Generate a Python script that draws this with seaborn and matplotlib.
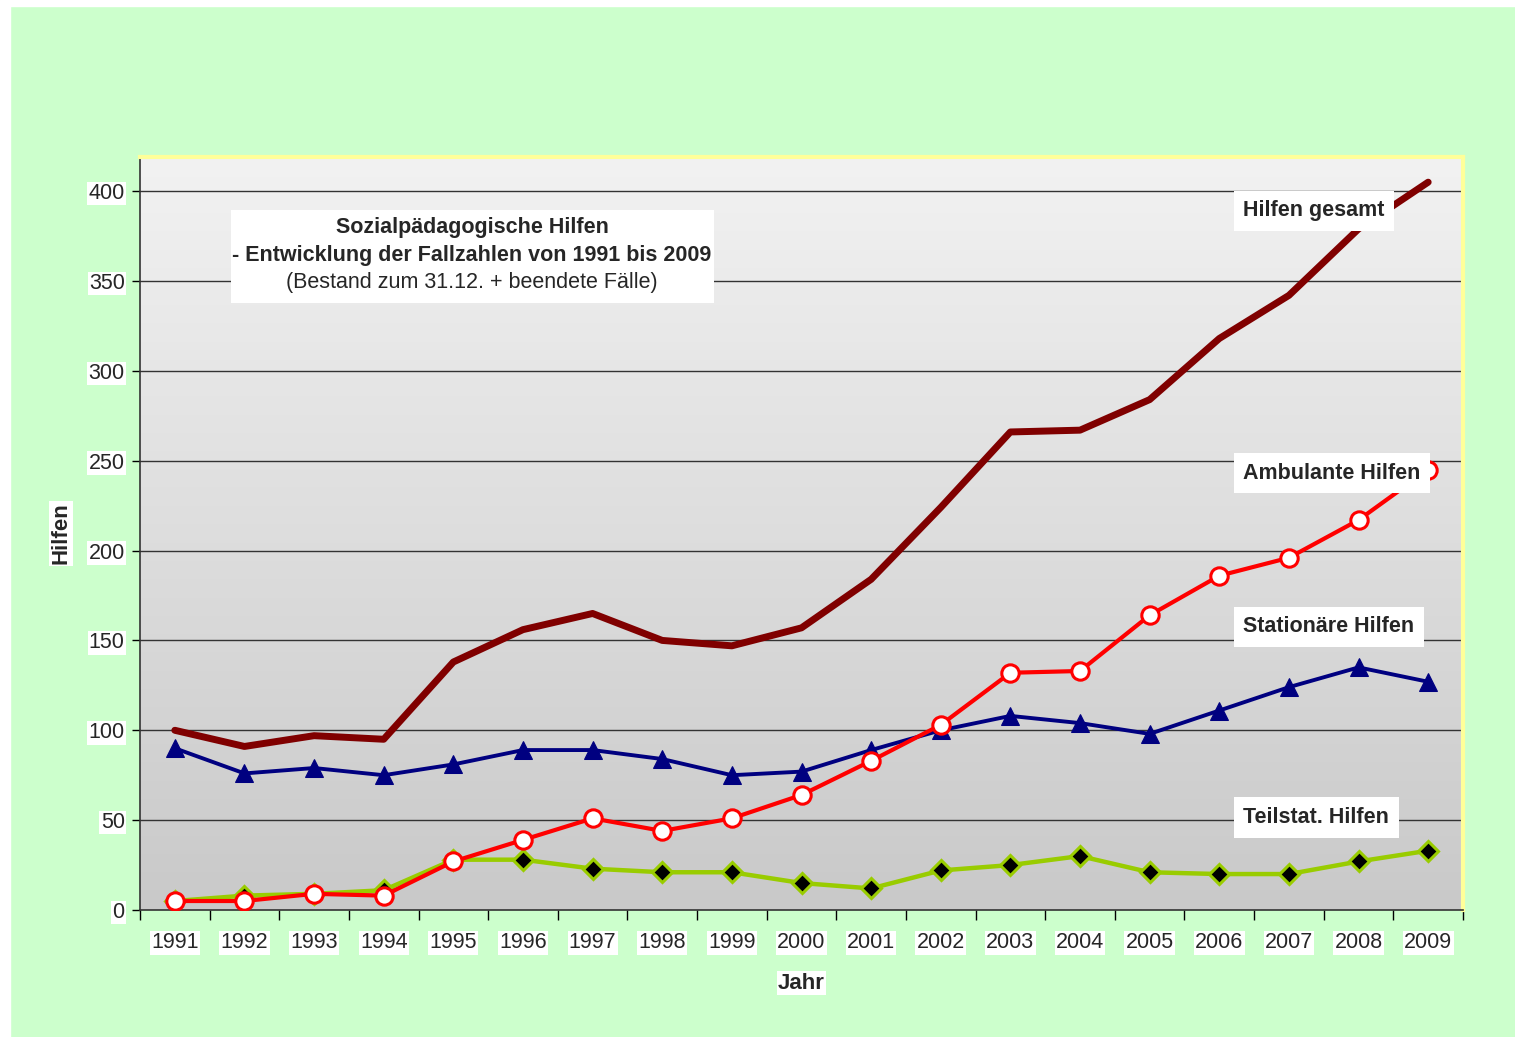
import numpy as np
import pandas as pd
import matplotlib
matplotlib.use("Agg")
import matplotlib.pyplot as plt
import seaborn as sns
from matplotlib.patches import Rectangle

years = list(range(1991, 2010))
gesamt = [100, 91, 97, 95, 138, 156, 165, 150, 147, 157, 184, 224, 266, 267, 284, 318, 342, 379, 405]
ambulant = [5, 5, 9, 8, 27, 39, 51, 44, 51, 64, 83, 103, 132, 133, 164, 186, 196, 217, 245]
stationaer = [90, 76, 79, 75, 81, 89, 89, 84, 75, 77, 89, 100, 108, 104, 98, 111, 124, 135, 127]
teilstat = [5, 8, 9, 11, 28, 28, 23, 21, 21, 15, 12, 22, 25, 30, 21, 20, 20, 27, 33]
yticks = list(range(0, 401, 50))

sns.set_style("white")
plt.rcParams['font.family'] = ['Liberation Sans', 'DejaVu Sans']

fig = plt.figure(figsize=(15.15, 10.37), dpi=100, facecolor='#CCFFCC')
# white strips on left/top edge
fig.patches.append(Rectangle((0, 0), 10 / 1515, 1, transform=fig.transFigure, color='white', zorder=0))
fig.patches.append(Rectangle((0, 1 - 6 / 1037), 1, 6 / 1037, transform=fig.transFigure, color='white', zorder=0))

ax = fig.add_axes([140 / 1515, 1 - 910 / 1037, 1323 / 1515, 753 / 1037])
ax.set_xlim(1990.5, 2009.5)
ax.set_ylim(0, 419)

# grey gradient background
grad = np.linspace(0, 1, 256).reshape(-1, 1)
ax.imshow(grad, extent=[0, 1, 0, 1], transform=ax.transAxes, aspect='auto',
          cmap=matplotlib.colors.LinearSegmentedColormap.from_list('g', ['#F2F2F2', '#C9C9C9']),
          origin='upper', zorder=0)

for y in yticks[1:]:
    ax.axhline(y, color='#333333', lw=1.0, zorder=1)

sns.lineplot(x=years, y=teilstat, ax=ax, color='#99CC00', lw=3.2, marker='D', markersize=10.5,
             markerfacecolor='black', markeredgecolor='#99CC00', markeredgewidth=2.2, zorder=3)
sns.lineplot(x=years, y=stationaer, ax=ax, color='#000080', lw=2.8, marker='^', markersize=12.5,
             markerfacecolor='#000080', markeredgecolor='#000080', zorder=4)
sns.lineplot(x=years, y=gesamt, ax=ax, color='#800000', lw=5.0, solid_capstyle='round', zorder=5)
sns.lineplot(x=years, y=ambulant, ax=ax, color='#FF0000', lw=3.0, marker='o', markersize=12.5,
             markerfacecolor='white', markeredgecolor='#FF0000', markeredgewidth=2.2, zorder=6)

# ticks
ax.set_xticks(np.arange(1990.5, 2010, 1))
ax.set_xticklabels([])
ax.set_xticks(years, minor=True)
ax.set_xticklabels([str(y) for y in years], minor=True)
ax.tick_params(axis='x', which='major', direction='out', length=7, width=1, color='black', bottom=True)
ax.tick_params(axis='x', which='minor', length=0, pad=16, labelsize=15.5)
ax.set_yticks(yticks)
ax.tick_params(axis='y', direction='out', length=6, width=1, color='black', left=True, pad=5, labelsize=15.5)
for lab in ax.get_xticklabels(minor=True) + ax.get_yticklabels():
    lab.set_bbox(dict(facecolor='white', edgecolor='none', pad=1))

for s in ['top', 'right']:
    ax.spines[s].set_color('#FFFF99')
    ax.spines[s].set_linewidth(3)
ax.spines['left'].set_color('#333333')
ax.spines['left'].set_linewidth(1.2)
ax.spines['bottom'].set_color('#333333')
ax.spines['bottom'].set_linewidth(1.2)

ax.set_xlabel('Jahr', fontsize=16, fontweight='bold', labelpad=14,
              bbox=dict(facecolor='white', edgecolor='none', pad=1))
ax.set_ylabel('Hilfen', fontsize=16, fontweight='bold', labelpad=12,
              bbox=dict(facecolor='white', edgecolor='none', pad=1))

# title box
ytr = ax.get_yaxis_transform()
ax.add_patch(Rectangle(((231 - 140) / 1323, (910 - 303) / 1.7975), (714 - 231) / 1323, 93 / 1.7975,
                       transform=ytr, facecolor='white', edgecolor='none', zorder=6.5))
ax.text(0.251, 379.5, 'Sozialpädagogische Hilfen', transform=ytr, ha='center', va='center',
        fontsize=15.5, fontweight='bold', zorder=7)
ax.text(0.251, 364, '- Entwicklung der Fallzahlen von 1991 bis 2009', transform=ytr, ha='center',
        va='center', fontsize=15.5, fontweight='bold', zorder=7)
ax.text(0.251, 349, '(Bestand zum 31.12. + beendete Fälle)', transform=ytr,
        ha='center', va='center', fontsize=15.5, zorder=7)

for label, yv in [('Hilfen gesamt', 389), ('Ambulante Hilfen', 243), ('Stationäre Hilfen', 157.5),
                  ('Teilstat. Hilfen', 51.5)]:
    ax.text(0.834, yv, label, transform=ytr, ha='left', va='center',
            fontsize=15.5, fontweight='bold', zorder=7,
            bbox=dict(facecolor='white', edgecolor='none', pad=7))

fig.savefig('out.png', dpi=100, facecolor=fig.get_facecolor())
